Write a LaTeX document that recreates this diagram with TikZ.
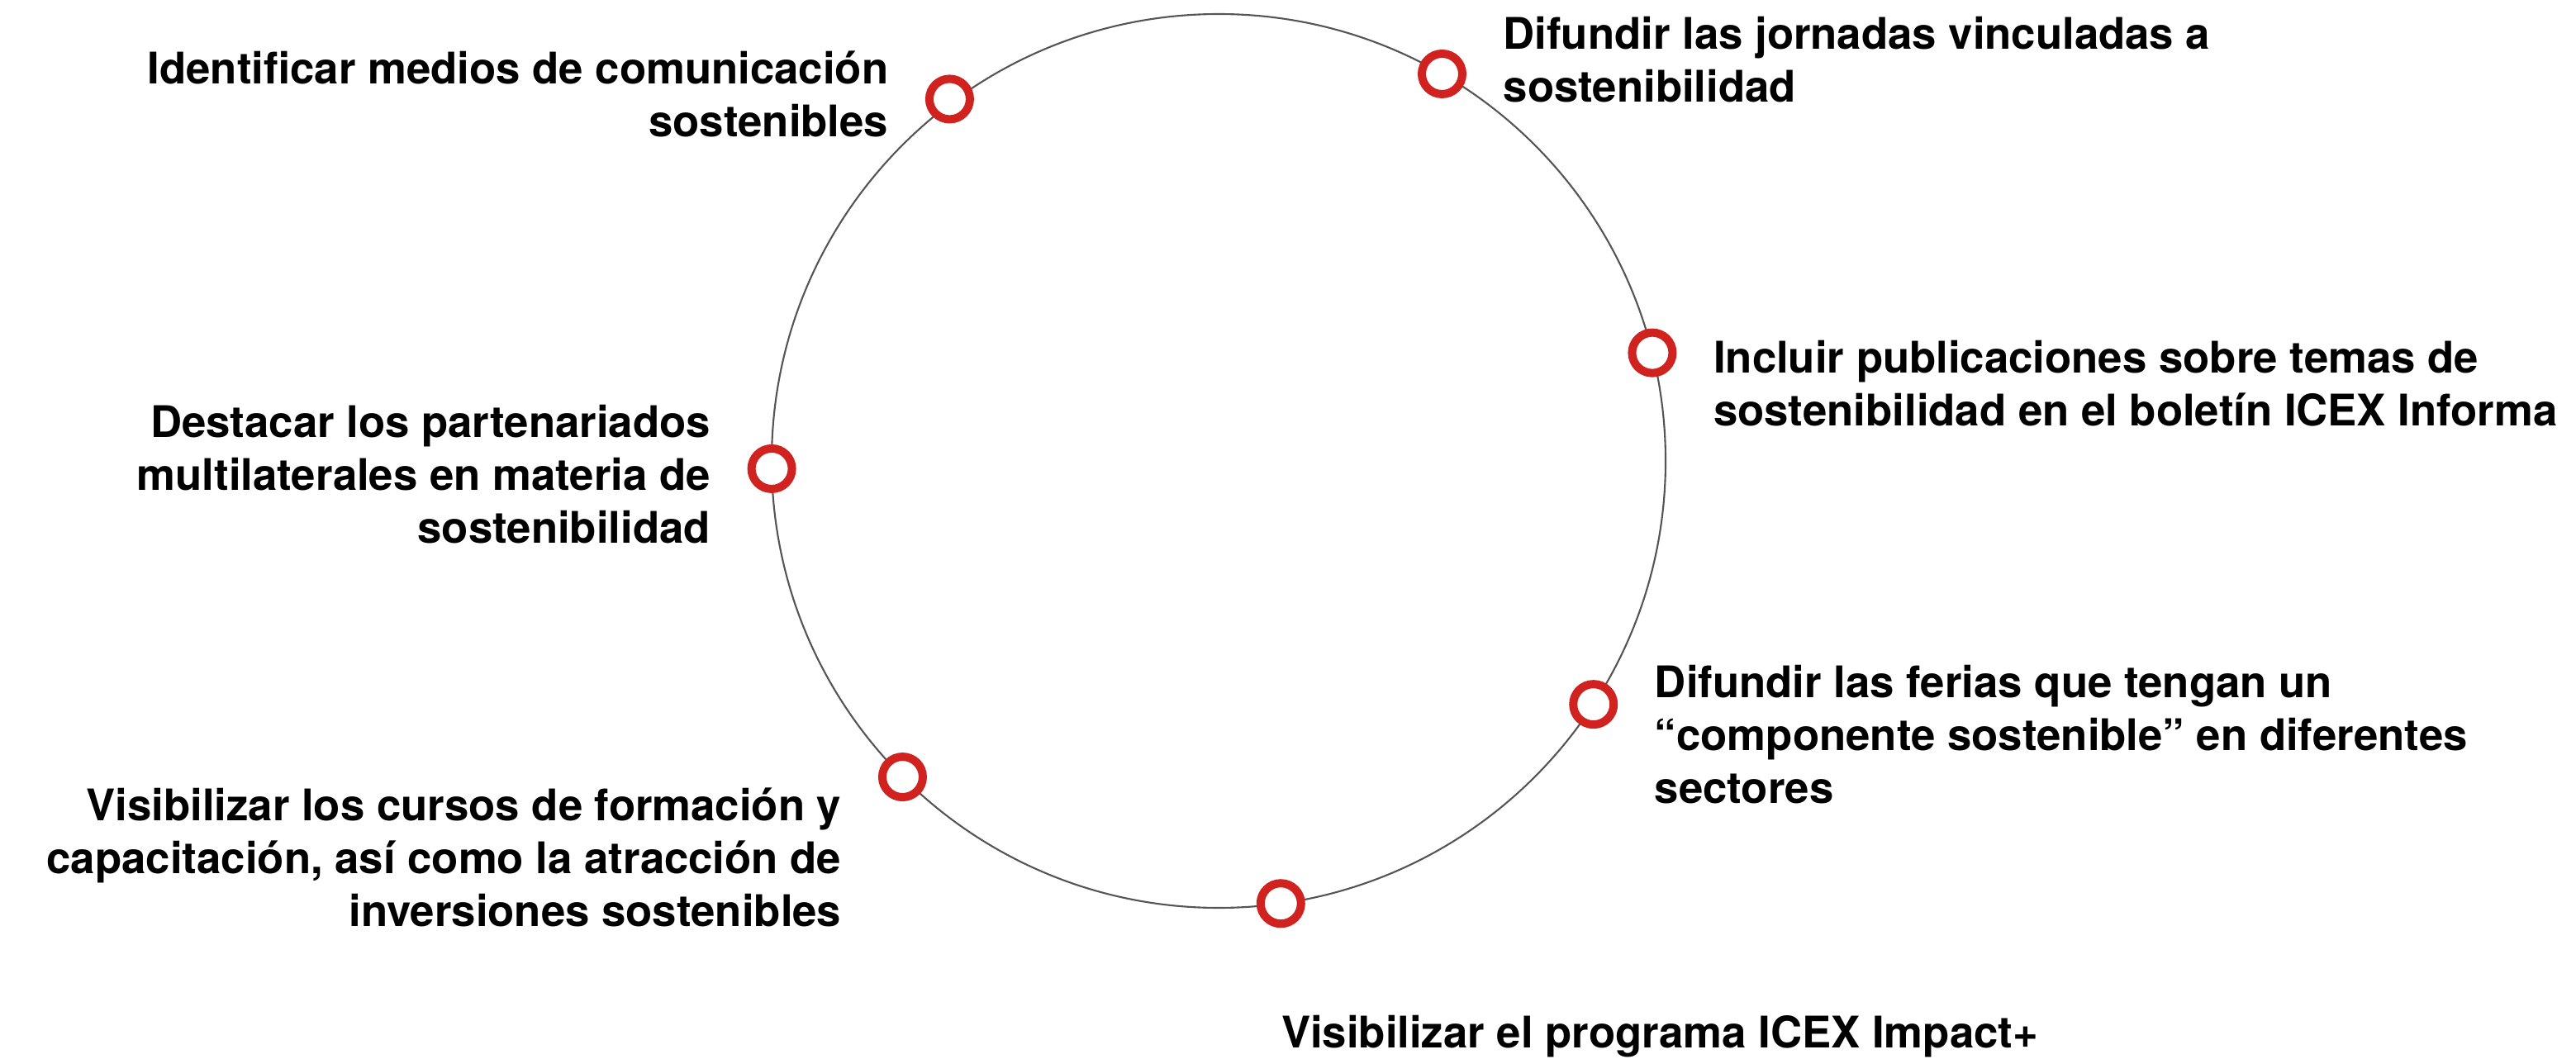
\documentclass[tikz,border=0pt]{standalone}
\usepackage{fontspec}
\setmainfont{TeX Gyre Heros}
\usetikzlibrary{positioning}
\definecolor{ringred}{HTML}{D0221F}
\definecolor{ringgray}{HTML}{555555}
\tikzset{
  dot/.style={circle, draw=ringred, line width=0.1cm, fill=white, inner sep=0pt, minimum size=0.49cm},
  item/.style={inner sep=0pt, font=\fontsize{15}{18.2}\selectfont\bfseries, text=black},
}

\begin{document}
\begin{tikzpicture}[node distance=0.44cm]
    \useasboundingbox (0,0) rectangle (31.18,-12.82);
    \node[circle, draw=ringgray, line width=0.6pt, inner sep=0pt, outer sep=0pt,
          minimum size=10.82cm] (ring) at (14.75,-5.58) {};
    \node[dot] (m1) at ([yshift=0.06cm]ring.127) {};
    \node[dot] (m2) at (ring.60) {};
    \node[dot] (m3) at (ring.14) {};
    \node[dot] (m4) at (ring.181.6) {};
    \node[dot] (m5) at (ring.-33.4) {};
    \node[dot] (m6) at (ring.225) {};
    \node[dot] (m7) at (ring.-82) {};
    \node[item, align=right, left=of m1, yshift=0.06cm] (t1) {Identificar medios de comunicación\\sostenibles};
    \node[item, align=left, right=of m2, yshift=0.17cm] (t2) {Difundir las jornadas vinculadas a\\sostenibilidad};
    \node[item, align=left, right=of m3, yshift=-0.37cm] (t3) {Incluir publicaciones sobre temas de\\sostenibilidad en el boletín ICEX Informa};
    \node[item, align=right, left=of m4, yshift=-0.07cm] (t4) {Destacar los partenariados\\multilaterales en materia de\\sostenibilidad};
    \node[item, align=left, right=of m5, yshift=-0.36cm] (t5) {Difundir las ferias que tengan un\\“componente sostenible” en diferentes\\sectores};
    \node[item, align=right, left=of m6, yshift=-0.97cm] (t6) {Visibilizar los cursos de formación y\\capacitación, así como la atracción de\\inversiones sostenibles};
    \node[item, anchor=west] (t7) at ([yshift=-1.61cm]m7.center) {Visibilizar el programa ICEX Impact+};
\end{tikzpicture}
\end{document}
